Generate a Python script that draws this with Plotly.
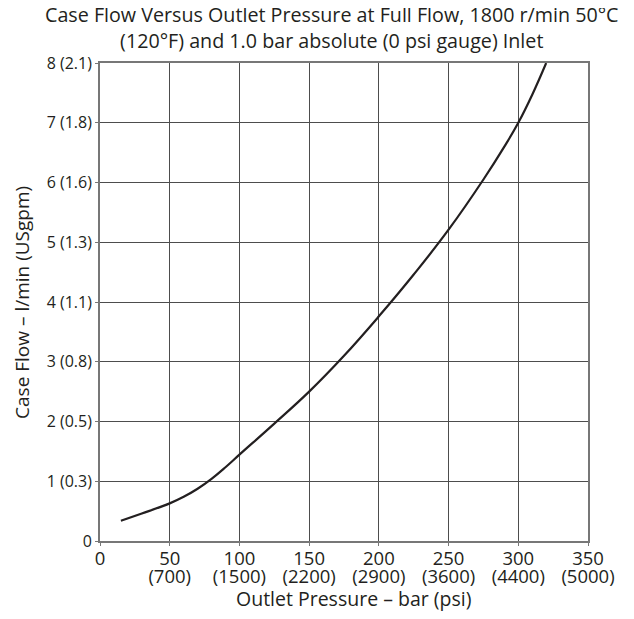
import plotly.graph_objects as go

# Curve data
pressure_bar = [15, 30, 50, 60, 70, 80, 90, 100, 125, 150, 175, 200, 225, 250, 275, 290, 300, 310, 320]
case_flow_lpm = [0.34, 0.46, 0.63, 0.74, 0.875, 1.04, 1.235, 1.445, 1.965, 2.50, 3.10, 3.76, 4.46, 5.21,
                 6.05, 6.60, 7.00, 7.47, 8.00]

bar_tick_vals = [0, 50, 100, 150, 200, 250, 300, 350]
bar_tick_text = ["0", "50", "100", "150", "200", "250", "300", "350"]
psi_tick_vals = [50, 100, 150, 200, 250, 300, 350]
psi_tick_text = ["(700)", "(1500)", "(2200)", "(2900)", "(3600)", "(4400)", "(5000)"]
y_tick_vals = [0, 1, 2, 3, 4, 5, 6, 7, 8]
y_tick_text = ["0", "1 (0.3)", "2 (0.5)", "3 (0.8)", "4 (1.1)", "5 (1.3)", "6 (1.6)", "7 (1.8)", "8 (2.1)"]

title_text = ("Case Flow Versus Outlet Pressure at Full Flow, 1800 r/min 50°C<br>"
              "(120°F) and 1.0 bar absolute (0 psi gauge) Inlet")
x_title = "Outlet Pressure – bar (psi)"
y_title = "Case Flow – l/min (USgpm)"

font_family = "Open Sans, Liberation Sans, sans-serif"
text_color = "#231f20"

fig = go.Figure()
fig.add_trace(go.Scatter(
    x=pressure_bar, y=case_flow_lpm, mode="lines",
    line=dict(color="#231f20", width=2.2, shape="spline", smoothing=1.2),
    showlegend=False, hoverinfo="skip",
))
# same curve on the psi label axis (invisible), so that axis is drawn
fig.add_trace(go.Scatter(
    x=pressure_bar, y=case_flow_lpm, mode="lines", xaxis="x2",
    line=dict(width=0), opacity=0, showlegend=False, hoverinfo="skip",
))

fig.update_layout(
    width=618, height=603,
    margin=dict(l=92, r=38, t=55, b=70),
    paper_bgcolor="white", plot_bgcolor="white",
    font=dict(family=font_family, size=16, color=text_color),
    annotations=[
        dict(text=title_text, xref="paper", yref="paper", x=0.476, y=1.075,
             xanchor="center", yanchor="middle", showarrow=False,
             font=dict(size=19.7, color=text_color)),
        dict(text=x_title, xref="paper", yref="paper", x=0.52, y=-0.121,
             xanchor="center", yanchor="middle", showarrow=False,
             font=dict(size=19.5, color=text_color)),
        dict(text=y_title, xref="paper", yref="paper", x=-0.16, y=0.5,
             xanchor="center", yanchor="middle", showarrow=False, textangle=-90,
             font=dict(size=19, color=text_color)),
    ],
    xaxis=dict(
        range=[0, 350], tickvals=bar_tick_vals, ticktext=bar_tick_text,
        showgrid=True, gridcolor="#4d4d4d", gridwidth=1.3,
        showline=True, linecolor="#777777", linewidth=1.8, mirror=True,
        ticks="outside", ticklen=3, tickcolor="#777777",
        zeroline=False, tickangle=0, ticklabelstandoff=-3,
        tickfont=dict(size=18.5),
    ),
    xaxis2=dict(
        range=[0, 350], overlaying="x", anchor="y", side="bottom",
        tickvals=psi_tick_vals, ticktext=psi_tick_text,
        showgrid=False, showline=False, zeroline=False, ticks="",
        tickangle=0, ticklabelstandoff=22,
        tickfont=dict(size=18.5),
    ),
    yaxis=dict(
        range=[0, 8], tickvals=y_tick_vals, ticktext=y_tick_text,
        showgrid=True, gridcolor="#4d4d4d", gridwidth=1.3,
        showline=True, linecolor="#777777", linewidth=1.8, mirror=True,
        ticks="outside", ticklen=3, tickcolor="#777777",
        zeroline=False,
        tickfont=dict(size=16),
    ),
)

fig.write_html("out.html")
